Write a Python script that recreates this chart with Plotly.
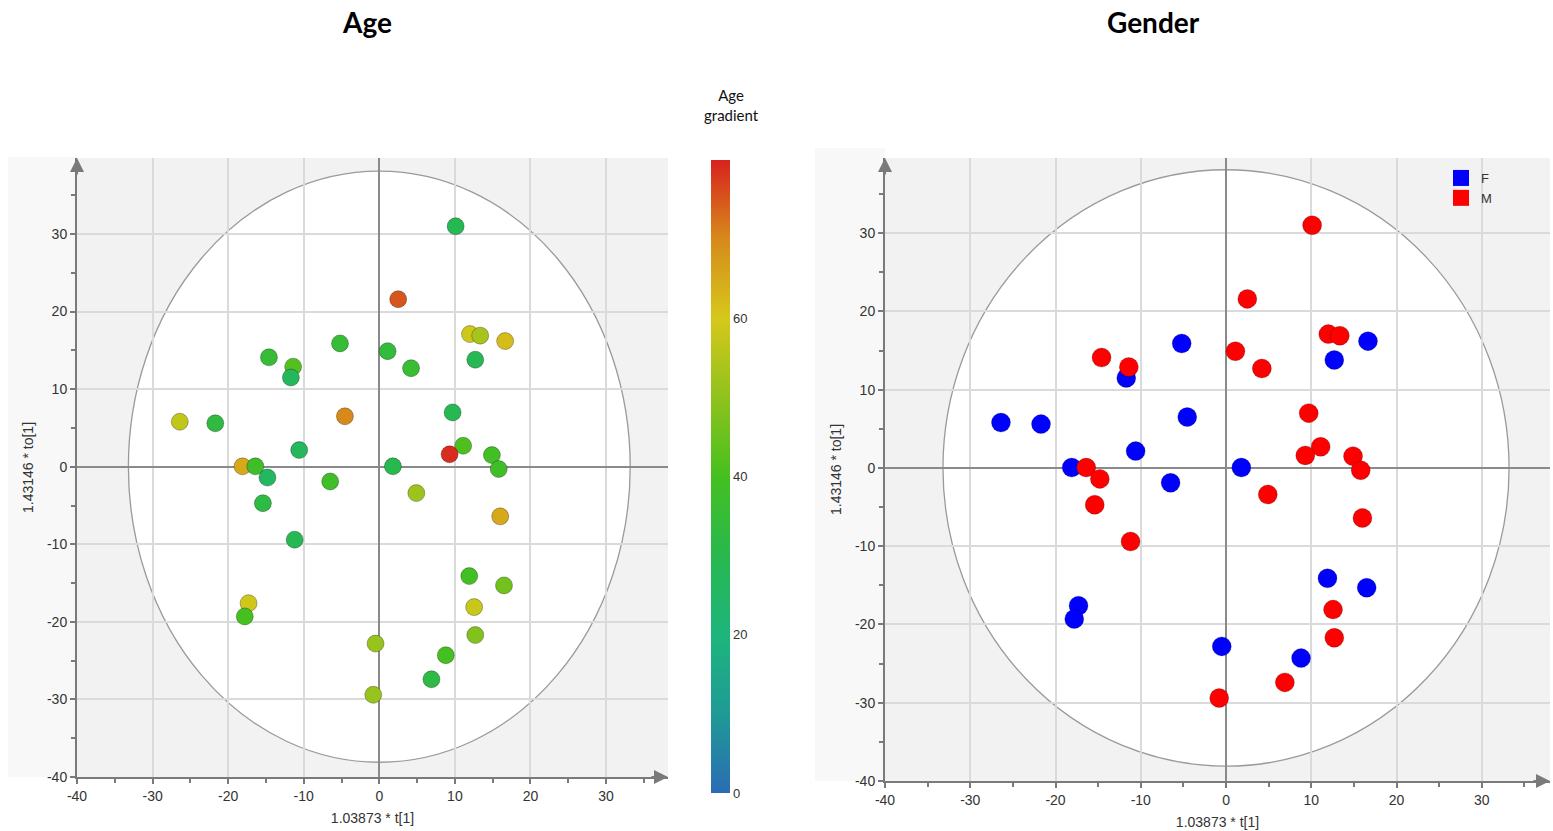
import plotly.graph_objects as go

# ---------------- data ----------------
t1 = [-26.4, -21.7, -14.6, -11.4, -11.7, -5.2, 1.1, -4.55, -10.6, -18.1,
      -16.4, -14.8, -6.5, 1.8, 2.5, 10.1, 4.2, 12.0, 13.35, 16.65,
      12.7, 9.7, 11.1, 9.3, 14.9, 15.8, 4.9, -15.4, -11.2, -17.3,
      -17.8, -0.5, -0.8, 16.0, 11.9, 16.5, 12.55, 12.7, 8.8, 6.9]
to1 = [5.8, 5.6, 14.1, 12.9, 11.5, 15.9, 14.9, 6.5, 2.15, 0.05,
       0.05, -1.4, -1.9, 0.05, 21.6, 31.0, 12.7, 17.1, 16.9, 16.2,
       13.8, 7.0, 2.7, 1.6, 1.5, -0.3, -3.4, -4.7, -9.4, -17.6,
       -19.3, -22.8, -29.4, -6.4, -14.1, -15.3, -18.1, -21.7, -24.3, -27.4]
age = [57, 33, 35, 42, 27, 35, 34, 70, 27, 65,
       38, 26, 38, 30, 75, 29, 36, 59, 53, 62,
       29, 29, 41, 79, 39, 38, 52, 32, 29, 59,
       40, 51, 51, 65, 39, 46, 58, 48, 40, 32]
gender = ["F", "F", "M", "M", "F", "F", "M", "F", "F", "F",
          "M", "M", "F", "F", "M", "M", "M", "M", "M", "F",
          "F", "M", "M", "M", "M", "M", "M", "M", "M", "F",
          "F", "F", "M", "M", "F", "F", "M", "M", "F", "M"]
groups = ["F", "M"]
group_colors = {"F": "#0000ff", "M": "#ff0000"}
age_ticks = [0, 20, 40, 60]
axis_ticks = [-40, -30, -20, -10, 0, 10, 20, 30]
axis_tick_text = ["-40", "-30", "-20", "-10", "0", "10", "20", "30"]
ellipse_a, ellipse_b = 33.2, 38.1

age_scale = [[0.0, "#2b6cb3"], [0.125, "#1f9a96"], [0.25, "#1db57c"],
             [0.375, "#27b84e"], [0.5, "#45c020"], [0.625, "#90c21c"],
             [0.75, "#d6c81b"], [0.875, "#d68a1b"], [1.0, "#d8221e"]]

FONT = "Liberation Sans, Arial, sans-serif"
TITLE_FONT = "Lato, Open Sans, sans-serif"

fig = go.Figure()

# ---------- Age panel ----------
fig.add_trace(go.Scatter(
    x=t1, y=to1, mode="markers", xaxis="x", yaxis="y", showlegend=False,
    marker=dict(size=17, color=age, cmin=0, cmax=80, colorscale=age_scale,
                line=dict(color="rgba(0,0,0,0.28)", width=1),
                colorbar=dict(x=711/1553, xanchor="left", xpad=0, ypad=0,
                              y=(831-793)/831, yanchor="bottom",
                              len=633/831, lenmode="fraction", thickness=19,
                              outlinewidth=0, tickvals=age_ticks, ticks="",
                              tickfont=dict(family=FONT, size=13, color="#333"))),
    hovertemplate="t[1]=%{x}<br>to[1]=%{y}<br>Age=%{marker.color}<extra></extra>"))

# ---------- Gender panel ----------
for g in groups:
    xs = [x for x, gg in zip(t1, gender) if gg == g]
    ys = [y for y, gg in zip(to1, gender) if gg == g]
    fig.add_trace(go.Scatter(
        x=xs, y=ys, mode="markers", xaxis="x2", yaxis="y2", name=g,
        showlegend=False,
        marker=dict(size=19, color=group_colors[g], line=dict(color="rgba(0,0,0,0.22)", width=1))))
    fig.add_trace(go.Scatter(
        x=[None], y=[None], mode="markers", xaxis="x2", yaxis="y2", name=g,
        marker=dict(size=18, symbol="square", color=group_colors[g])))


def axis_common(rng, domain, anchor):
    return dict(range=rng, domain=domain, anchor=anchor,
                tickvals=axis_ticks, ticktext=axis_tick_text,
                showgrid=True, gridcolor="#dadada", gridwidth=1.5,
                zeroline=True, zerolinecolor="#8a8a8a", zerolinewidth=1.5,
                showline=True, linecolor="#7a7a7a", linewidth=2,
                ticks="outside", ticklen=5, tickcolor="#7a7a7a", tickwidth=1.5,
                minor=dict(dtick=5, ticks="outside", ticklen=4, tickcolor="#7a7a7a", showgrid=False),
                tickfont=dict(family=FONT, size=14, color="#333"),
                automargin=False, fixedrange=True)


title_font = dict(family=FONT, size=14, color="#333")
xa = axis_common([-40, 38.2], [77/1553, 668/1553], "y")
xa.update(title=dict(text="1.03873 * t[1]", standoff=10, font=title_font))
ya = axis_common([-40, 39.8], [(831-777)/831, (831-158)/831], "x")
ya.update(title=dict(text="1.43146 * to[1]", standoff=10, font=title_font))
xa2 = axis_common([-40, 38.0], [885/1553, 1550/1553], "y2")
xa2.update(title=dict(text="1.03873 * t[1]", standoff=10, font=title_font))
ya2 = axis_common([-40, 39.6], [(831-781)/831, (831-158)/831], "x2")
ya2.update(title=dict(text="1.43146 * to[1]", standoff=10, font=title_font))

shapes = []
# faint backdrop left of the y axes
shapes.append(dict(type="rect", xref="paper", yref="paper", x0=8/1553, x1=77/1553,
                   y0=(831-777)/831, y1=(831-157)/831, fillcolor="#f8f8f8", line_width=0, layer="below"))
shapes.append(dict(type="rect", xref="paper", yref="paper", x0=815/1553, x1=885/1553,
                   y0=(831-781)/831, y1=(831-148)/831, fillcolor="#f8f8f8", line_width=0, layer="below"))
# Hotelling ellipses
for xr, yr in [("x", "y"), ("x2", "y2")]:
    shapes.append(dict(type="circle", xref=xr, yref=yr, x0=-ellipse_a, x1=ellipse_a,
                       y0=-ellipse_b, y1=ellipse_b, fillcolor="white",
                       line=dict(color="#9a9a9a", width=1.3), layer="below"))

annotations = []
# panel titles
for txt, px in [("<b>Age</b>", 367), ("<b>Gender</b>", 1153)]:
    annotations.append(dict(text=txt, x=px/1553, y=1-22/831, xref="paper", yref="paper",
                            xanchor="center", yanchor="middle", showarrow=False,
                            font=dict(family=TITLE_FONT, size=28, color="#000")))
annotations.append(dict(text="Age<br>gradient", x=731/1553, y=1-105/831, xref="paper", yref="paper",
                        xanchor="center", yanchor="middle", showarrow=False,
                        font=dict(family=TITLE_FONT, size=15, color="#111")))
# axis arrow heads
for xd, yd in [("x domain", "y domain"), ("x2 domain", "y2 domain")]:
    annotations.append(dict(x=0, y=1, xref=xd, yref=yd, ax=0, ay=18, text="", showarrow=True,
                            arrowhead=2, arrowsize=1.4, arrowwidth=2, arrowcolor="#7a7a7a"))
    annotations.append(dict(x=1, y=0, xref=xd, yref=yd, ax=-18, ay=0, text="", showarrow=True,
                            arrowhead=2, arrowsize=1.4, arrowwidth=2, arrowcolor="#7a7a7a"))

fig.update_layout(
    width=1553, height=831, margin=dict(l=0, r=0, t=0, b=0),
    paper_bgcolor="white", plot_bgcolor="#f2f2f2",
    xaxis=xa, yaxis=ya, xaxis2=xa2, yaxis2=ya2,
    shapes=shapes, annotations=annotations,
    legend=dict(x=1441/1553, y=1-163/831, xanchor="left", yanchor="top",
                bgcolor="rgba(0,0,0,0)", font=dict(family=FONT, size=13, color="#333"),
                itemwidth=30, tracegroupgap=0),
)

fig.write_html("out.html")
